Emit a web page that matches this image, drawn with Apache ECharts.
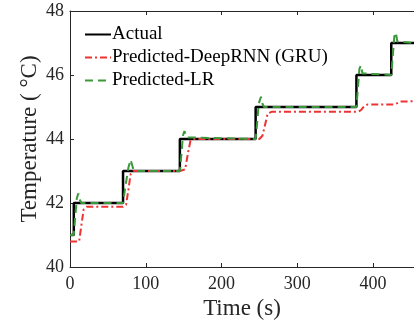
<!DOCTYPE html>
<html>
<head>
<meta charset="utf-8">
<script src="https://cdn.jsdelivr.net/npm/echarts@6/dist/echarts.min.js"></script>
<style>
  html, body { margin: 0; padding: 0; background: #fff; }
  #chart { width: 414px; height: 322px; }
</style>
</head>
<body>
<div id="chart"></div>
<script>
// time (s) / temperature pairs
const actualT = [0, 5, 70, 145, 245, 378, 424, 454];
const actualY = [41, 42, 43, 44, 45, 46, 47, 47];

const rnnT = [0, 12, 15, 18, 22, 70, 74, 77, 80, 84, 145, 152, 156, 159, 163, 250, 254, 258, 261, 266, 380, 384, 388, 393, 428, 432, 436, 454];
const rnnY = [40.8, 40.8, 41.3, 41.8, 41.88, 41.88, 41.95, 42.4, 42.9, 43.0, 43.0, 43.05, 43.6, 43.95, 44.0, 44.0, 44.1, 44.5, 44.8, 44.85, 44.85, 44.9, 45.02, 45.08, 45.08, 45.12, 45.17, 45.18];

const lrT = [0, 5, 7, 9, 11, 13, 15, 70, 73, 77, 80, 83, 85, 145, 147, 149, 151, 154, 156, 245, 247, 249, 252, 254, 256, 378, 380, 382, 384, 386, 388, 424, 426, 428, 430, 432, 434, 454];
const lrY = [41, 41, 41.6, 42.15, 42.3, 42.1, 42.0, 42, 42.5, 43.1, 43.35, 43.1, 43, 43, 43.5, 44.1, 44.25, 44.05, 44, 44, 44.5, 45.1, 45.32, 45.1, 45, 45, 45.6, 46.2, 46.3, 46.05, 46, 46, 46.6, 47.2, 47.33, 47.05, 47, 47];

const xTicks = [0, 100, 200, 300, 400];
const yTicks = [40, 42, 44, 46, 48];

const pairs = (t, y) => t.map((v, i) => [v, y[i]]);

const font = "'Liberation Serif', 'DejaVu Serif', serif";
const axisColor = '#262626';

const chart = echarts.init(document.getElementById('chart'), null, { renderer: 'canvas' });

chart.setOption({
  animation: false,
  backgroundColor: '#fff',
  grid: { left: 70, right: 0, top: 11, bottom: 55, containLabel: false, outerBoundsMode: 'none' },
  legend: {
    left: 79,
    top: 20,
    orient: 'vertical',
    itemWidth: 26,
    itemHeight: 14,
    itemGap: 4,
    itemStyle: { opacity: 0 },
    data: ['Actual', 'Predicted-DeepRNN (GRU)', 'Predicted-LR'],
    textStyle: { fontFamily: font, fontSize: 19, color: '#000', padding: [0, 0, 0, -4] }
  },
  xAxis: [
    {
      type: 'value',
      min: 0,
      max: 454,
      interval: 100,
      name: 'Time (s)',
      nameLocation: 'middle',
      nameGap: 30,
      nameTextStyle: { fontFamily: font, fontSize: 23, color: axisColor },
      axisLine: { lineStyle: { color: axisColor, width: 1 } },
      axisTick: { inside: true, length: 4, lineStyle: { color: axisColor } },
      axisLabel: {
        fontFamily: font, fontSize: 18, color: axisColor, margin: 8,
        showMaxLabel: false,
        formatter: v => (xTicks.includes(v) ? String(v) : '')
      },
      splitLine: { show: false }
    },
    {
      type: 'value',
      position: 'top',
      min: 0,
      max: 454,
      interval: 100,
      axisLine: { lineStyle: { color: axisColor, width: 1 } },
      axisTick: { inside: true, length: 4, lineStyle: { color: axisColor } },
      axisLabel: { show: false },
      splitLine: { show: false }
    }
  ],
  yAxis: {
    type: 'value',
    min: 40,
    max: 48,
    interval: 2,
    name: 'Temperature ( °C)',
    nameLocation: 'middle',
    nameGap: 29,
    nameMoveOverlap: false,
    nameTextStyle: { fontFamily: font, fontSize: 23, color: axisColor },
    axisLine: { show: true, lineStyle: { color: axisColor, width: 1 } },
    axisTick: { show: true, inside: true, length: 4, lineStyle: { color: axisColor } },
    axisLabel: {
      fontFamily: font, fontSize: 18, color: axisColor, margin: 6,
      formatter: v => (yTicks.includes(v) ? String(v) : '')
    },
    splitLine: { show: false }
  },
  series: [
    {
      name: 'Actual',
      type: 'line',
      step: 'end',
      data: pairs(actualT, actualY),
      symbol: 'none',
      color: '#000',
      lineStyle: { color: '#000', width: 2.5 },
      z: 1
    },
    {
      name: 'Predicted-DeepRNN (GRU)',
      type: 'line',
      data: pairs(rnnT, rnnY),
      symbol: 'none',
      color: '#ee3333',
      lineStyle: { color: '#ee3333', width: 2, type: [7, 3, 2, 3] },
      z: 2
    },
    {
      name: 'Predicted-LR',
      type: 'line',
      data: pairs(lrT, lrY),
      symbol: 'none',
      color: '#3a983a',
      lineStyle: { color: '#3a983a', width: 2, type: [8, 5] },
      z: 3
    }
  ]
});
</script>
</body>
</html>
